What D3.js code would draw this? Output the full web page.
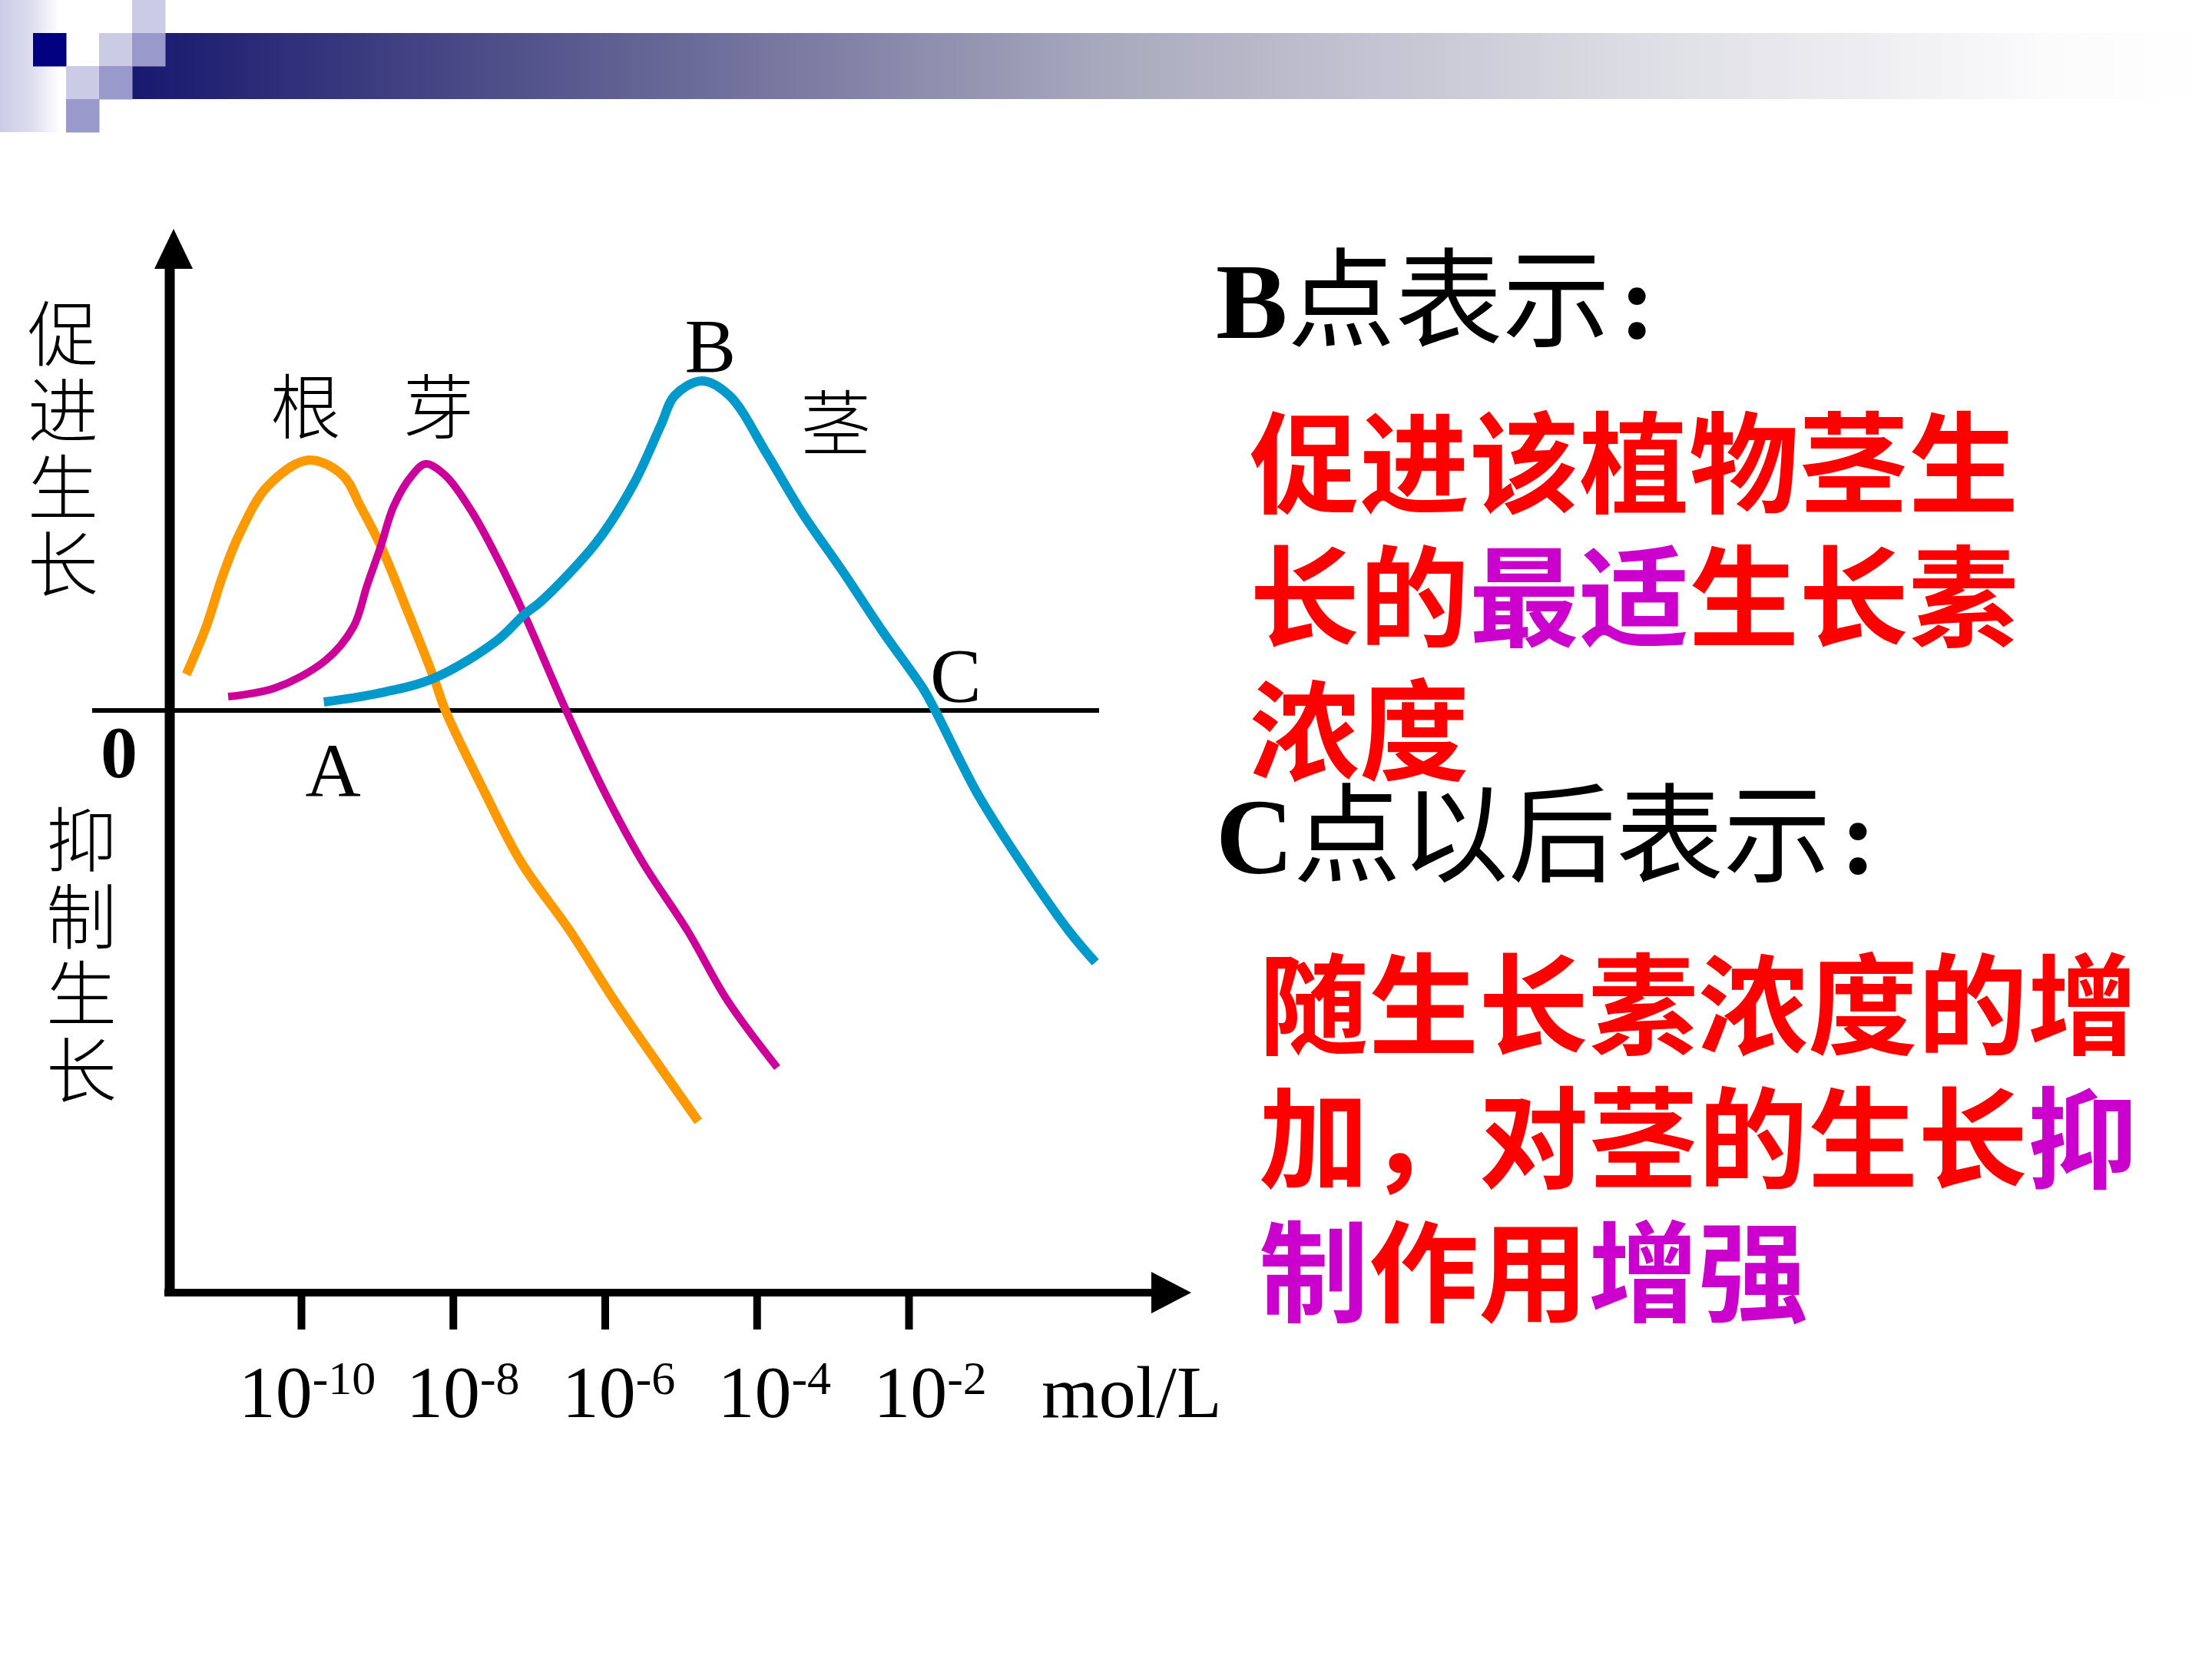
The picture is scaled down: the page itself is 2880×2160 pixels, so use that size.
<!DOCTYPE html>
<html>
<head>
<meta charset="utf-8">
<script src="https://cdn.jsdelivr.net/npm/d3@7"></script>
<style>
  html, body { margin: 0; padding: 0; background: #fff; }
  svg { display: block; }
</style>
</head>
<body>
<div id="chart"></div>
<script>
// log10 of concentration (mol/L) on x, growth effect on y (arbitrary units, + promotes, - inhibits)
const xTicks = [-10, -8, -6, -4, -2];
const xTickLabels = ["-10", "-8", "-6", "-4", "-2"];
const unitLabel = "mol/L";

// 根 (root)
const rootLogC = [-11.51, -11.25, -11.03, -10.81, -10.44, -9.90, -9.45, -9.22, -8.95, -8.61, -8.25, -8.10, -7.57, -7.10, -6.46, -5.88, -5.26, -4.77];
const rootGrowth = [4.7, 10.9, 17.6, 23.0, 29.2, 32.6, 30.6, 26.6, 21.4, 13.2, 4.2, 0, -10.9, -19.8, -28.7, -37.7, -46.6, -53.5];

// 芽 (bud)
const budLogC = [-10.96, -10.35, -9.68, -9.31, -9.13, -8.95, -8.78, -8.54, -8.36, -8.10, -7.74, -7.42, -7.06, -6.51, -5.99, -5.50, -4.91, -4.39, -3.73];
const budGrowth = [1.8, 2.9, 6.5, 10.9, 16.3, 21.4, 26.6, 30.6, 32.1, 30.6, 25.7, 19.9, 12.5, 0, -10.9, -19.8, -28.7, -37.7, -46.5];

// 茎 (stem)
const stemLogC = [-9.70, -9.00, -8.25, -7.42, -7.06, -6.84, -6.11, -5.62, -5.26, -5.08, -4.72, -4.36, -3.86, -3.40, -2.86, -2.35, -1.80, -1.65, -1.09, -0.52, 0.11, 0.46];
const stemGrowth = [1.1, 2.2, 4.2, 9.1, 12.5, 14.2, 21.9, 29.5, 37.2, 41.0, 42.9, 41.0, 33.3, 25.7, 18.0, 10.4, 2.7, 0, -10.9, -19.8, -28.7, -32.8];

const seriesNames = ["根", "芽", "茎"];
const seriesColors = ["#ff9900", "#cc0099", "#0099cc"];

const promoteLabel = "促进生长";
const inhibitLabel = "抑制生长";

// text block on the right: [text, color] pieces per line
const bHeading = ["B", "点表示", ":"];
const bLines = [
  [["促进该植物茎生", "#ff0000"]],
  [["长的", "#ff0000"], ["最适", "#cc00cc"], ["生长素", "#ff0000"]],
  [["浓度", "#ff0000"]]
];
const cHeading = ["C", "点以后表示", ":"];
const cLines = [
  [["随生长素浓度的增", "#ff0000"]],
  [["加，对茎的生长", "#ff0000"], ["抑", "#cc00cc"]],
  [["制", "#cc00cc"], ["作用", "#ff0000"], ["增强", "#cc00cc"]]
];

const W = 2880, H = 2160;
const svg = d3.select("#chart").append("svg")
  .attr("width", W).attr("height", H)
  .style("background", "#fff");

// ---- title decoration (slide template) ----
const defs = svg.append("defs");
const barGrad = defs.append("linearGradient").attr("id", "barGrad")
  .attr("x1", "0").attr("x2", "1").attr("y1", "0").attr("y2", "0");
[["0%", "#18186f"], ["22%", "#5c5c90"], ["48%", "#acacc0"], ["72%", "#dcdce4"], ["92%", "#fbfbfc"], ["100%", "#ffffff"]]
  .forEach(s => barGrad.append("stop").attr("offset", s[0]).attr("stop-color", s[1]));
const sideGrad = defs.append("linearGradient").attr("id", "sideGrad")
  .attr("x1", "0").attr("x2", "1").attr("y1", "0").attr("y2", "0");
sideGrad.append("stop").attr("offset", "0%").attr("stop-color", "#cbcbe6");
sideGrad.append("stop").attr("offset", "55%").attr("stop-color", "#dedef0");
sideGrad.append("stop").attr("offset", "100%").attr("stop-color", "#ffffff");

const deco = svg.append("g");
const u = 43;
deco.append("rect").attr("x", 0).attr("y", 0).attr("width", 78).attr("height", 4 * u).attr("fill", "url(#sideGrad)");
deco.append("rect").attr("x", 4 * u).attr("y", u).attr("width", W - 4 * u).attr("height", 2 * u).attr("fill", "url(#barGrad)");
const squares = [
  [1, 1, "#000080"],
  [3, 1, "#cbcbe5"], [4, 0, "#cbcbe5"], [2, 2, "#cbcbe5"],
  [4, 1, "#9999cc"], [3, 2, "#9999cc"], [2, 3, "#9999cc"]
];
deco.selectAll("rect.sq").data(squares).enter().append("rect")
  .attr("class", "sq")
  .attr("x", d => d[0] * u).attr("y", d => d[1] * u)
  .attr("width", u + 0.5).attr("height", u + 0.5)
  .attr("fill", d => d[2]);

// ---- chart ----
const x = d3.scaleLinear().domain([-10, -2]).range([392, 1183]);
const y = d3.scaleLinear().domain([-50, 40]).range([1425, 525]);

const axisX = 221, axisBottom = 1683, axisTop = 298, axisRight = 1551;
const serif = "'Liberation Serif', 'Times New Roman', serif";
const cjk = "'Noto Sans CJK SC', sans-serif";

const g = svg.append("g");

// y axis with arrow
g.append("line").attr("x1", axisX).attr("x2", axisX)
  .attr("y1", axisBottom + 5).attr("y2", axisTop + 48)
  .attr("stroke", "#000").attr("stroke-width", 13);
g.append("path")
  .attr("d", `M${axisX + 5},${axisTop} L${axisX + 30},${axisTop + 52} L${axisX - 20},${axisTop + 52} Z`)
  .attr("fill", "#000");

// x axis with arrow, ticks from d3.axisBottom
g.append("line").attr("x1", axisX - 7).attr("x2", axisRight - 50)
  .attr("y1", axisBottom).attr("y2", axisBottom)
  .attr("stroke", "#000").attr("stroke-width", 10);
g.append("path")
  .attr("d", `M${axisRight},${axisBottom} L${axisRight - 52},${axisBottom - 27} L${axisRight - 52},${axisBottom + 27} Z`)
  .attr("fill", "#000");
const xAxis = g.append("g")
  .attr("transform", `translate(0,${axisBottom})`)
  .call(d3.axisBottom(x).tickValues(xTicks).tickSize(48).tickFormat(""));
xAxis.select(".domain").remove();
xAxis.selectAll(".tick line").attr("stroke", "#000").attr("stroke-width", 10);

// tick labels 10^n
const tl = g.append("g").selectAll("text").data(xTicks).enter().append("text")
  .attr("x", (d, i) => x(d) + 8 + i * 5)
  .attr("y", 1845)
  .attr("text-anchor", "middle")
  .attr("font-family", serif)
  .attr("font-size", 96)
  .attr("fill", "#000");
tl.append("tspan").text("10");
tl.append("tspan").attr("font-size", 62).attr("dy", -30).text((d, i) => xTickLabels[i]);
g.append("text").attr("x", 1356).attr("y", 1845)
  .attr("font-family", serif).attr("font-size", 96).attr("fill", "#000")
  .text(unitLabel);

// zero line
g.append("line").attr("x1", 120).attr("x2", 1431)
  .attr("y1", y(0)).attr("y2", y(0))
  .attr("stroke", "#000").attr("stroke-width", 6);

// curves
const line = d3.line().x(d => x(d[0])).y(d => y(d[1])).curve(d3.curveCatmullRom.alpha(0.5));
const series = [
  d3.zip(rootLogC, rootGrowth),
  d3.zip(budLogC, budGrowth),
  d3.zip(stemLogC, stemGrowth)
];
const widths = [12, 10, 12];
g.selectAll("path.curve").data(series).enter().append("path")
  .attr("class", "curve")
  .attr("d", line)
  .attr("fill", "none")
  .attr("stroke", (d, i) => seriesColors[i])
  .attr("stroke-width", (d, i) => widths[i])
  .attr("stroke-linejoin", "round");

// series names
const namePos = [[398, 564], [571, 564], [1088, 585]];
g.selectAll("text.name").data(seriesNames).enter().append("text")
  .attr("class", "name")
  .attr("x", (d, i) => namePos[i][0]).attr("y", (d, i) => namePos[i][1])
  .attr("text-anchor", "middle")
  .attr("font-family", cjk).attr("font-weight", 300).attr("font-size", 92)
  .attr("fill", "#000").text(d => d);

// vertical axis captions (one vertical text each)
[[promoteLabel, 82, 388], [inhibitLabel, 106, 1047]].forEach(c => {
  g.append("text")
    .attr("x", c[1]).attr("y", c[2])
    .style("writing-mode", "vertical-rl")
    .attr("letter-spacing", 8)
    .attr("font-family", cjk).attr("font-weight", 300).attr("font-size", 92)
    .attr("fill", "#000").text(c[0]);
});

// point letters
g.append("text").attr("x", 155).attr("y", 1012).attr("text-anchor", "middle")
  .attr("font-family", serif).attr("font-weight", "bold").attr("font-size", 96).text("0");
const letters = [["A", x(-9.58), 1037], ["B", x(-4.61), 484], ["C", x(-1.38), 913]];
g.selectAll("text.pt").data(letters).enter().append("text")
  .attr("class", "pt")
  .attr("x", d => d[1]).attr("y", d => d[2])
  .attr("text-anchor", "middle")
  .attr("font-family", serif).attr("font-size", 100).attr("fill", "#000")
  .text(d => d[0]);

// ---- right-hand explanation ----
const r = svg.append("g");
function heading(parts, yy) {
  const t = r.append("text").attr("x", 1583).attr("y", yy).attr("font-size", 140).attr("fill", "#000");
  t.append("tspan").attr("font-family", serif).attr("font-weight", "bold").text(parts[0]);
  t.append("tspan").attr("font-family", cjk).attr("font-weight", 400).text(parts[1]);
  t.append("tspan").attr("font-family", serif).attr("font-weight", "bold").attr("dx", 12).text(parts[2]);
}
function block(lines, x0, y0) {
  lines.forEach((pieces, i) => {
    const t = r.append("text").attr("x", x0).attr("y", y0 + i * 174)
      .attr("font-family", cjk).attr("font-weight", 700).attr("font-size", 143);
    pieces.forEach(p => t.append("tspan").attr("fill", p[1]).text(p[0]));
  });
}
heading(bHeading, 440);
block(bLines, 1627, 657);
heading(cHeading, 1137);
block(cLines, 1639, 1362);
</script>
</body>
</html>
